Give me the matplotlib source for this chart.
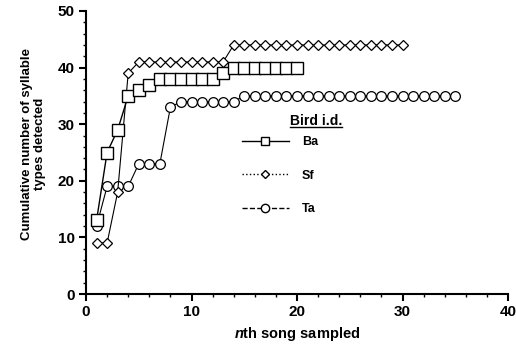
import matplotlib
matplotlib.use("Agg")
import matplotlib.pyplot as plt
from matplotlib.lines import Line2D
import matplotlib.ticker as ticker

plt.rcParams["font.family"] = ["Liberation Sans", "DejaVu Sans"]
plt.rcParams["font.weight"] = "bold"
plt.rcParams["mathtext.fontset"] = "custom"
plt.rcParams["mathtext.bfit"] = "Liberation Sans:bold:italic"
plt.rcParams["mathtext.rm"] = "Liberation Sans:bold"

# dados
ba_x = list(range(1, 21))
ba_y = [13, 25, 29, 35, 36, 37, 38, 38, 38, 38, 38, 38, 39, 40, 40, 40, 40, 40, 40, 40]

sf_x = list(range(1, 31))
sf_y = [9, 9, 18, 39, 41, 41, 41, 41, 41, 41, 41, 41, 41] + [44] * 17

ta_x = list(range(1, 36))
ta_y = [12, 19, 19, 19, 23, 23, 23, 33, 34, 34, 34, 34, 34, 34] + [35] * 21

labels = ["Ba", "Sf", "Ta"]
styles = ["-", ":", "--"]
markers = ["s", "D", "o"]

fig = plt.figure(figsize=(5.16, 3.49), dpi=100)
ax = fig.add_axes([86 / 516, 55 / 349, 422 / 516, 283 / 349])

ax.plot(ta_x, ta_y, "-", color="black", lw=0.8, marker="o", ms=7,
        mfc="white", mec="black", mew=0.9, zorder=3)
ax.plot(sf_x, sf_y, "-", color="black", lw=0.8, marker="D", ms=5.5,
        mfc="white", mec="black", mew=0.9, zorder=4)
ax.plot(ba_x, ba_y, "-", color="black", lw=1.0, marker="s", ms=8.5,
        mfc="white", mec="black", mew=1.0, zorder=5)

ax.set_xlim(0, 40)
ax.set_ylim(0, 50)
ax.xaxis.set_major_locator(ticker.MultipleLocator(10))
ax.xaxis.set_minor_locator(ticker.MultipleLocator(2))
ax.yaxis.set_major_locator(ticker.MultipleLocator(10))
ax.yaxis.set_minor_locator(ticker.MultipleLocator(2))
ax.spines["top"].set_visible(False)
ax.spines["right"].set_visible(False)
ax.spines["left"].set_linewidth(1.5)
ax.spines["bottom"].set_linewidth(1.5)
ax.tick_params(which="major", length=5, width=1.5, labelsize=11, pad=3)
ax.tick_params(which="minor", length=2.5, width=1.0)
for t in ax.get_xticklabels() + ax.get_yticklabels():
    t.set_fontweight("bold")

ax.set_xlabel("$\\mathbfit{n}$th song sampled", fontsize=10.5, fontweight="bold")
ax.xaxis.set_label_coords(0.5, -0.11)
ax.set_ylabel("Cumulative number of syllable\ntypes detected", fontsize=9.5,
              fontweight="bold", linespacing=1.1)
ax.yaxis.set_label_coords(-0.095, 0.53)

# legenda sem título; o título sublinhado vai à parte
handles = [Line2D([0], [0], color="black", ls=s, lw=1.0, marker=m, ms=ms,
                  mfc="white", mec="black")
           for s, m, ms in zip(styles, markers, [6, 4, 6])]
leg = ax.legend(handles, labels, loc="upper left",
                bbox_to_anchor=(0.369, 0.557), frameon=False, handlelength=3.8,
                labelspacing=1.72, handletextpad=1.0, fontsize=9,
                borderaxespad=0, borderpad=0)
for t in leg.get_texts():
    t.set_fontweight("bold")

title = ax.text(0.483, 0.61, "Bird i.d.", transform=ax.transAxes, fontsize=10,
                fontweight="bold", ha="left", va="center")
fig.canvas.draw()
bb = title.get_window_extent().transformed(fig.transFigure.inverted())
fig.add_artist(Line2D([bb.x0, bb.x1], [bb.y0 + 0.003, bb.y0 + 0.003],
                      color="black", lw=1.0, transform=fig.transFigure))

fig.savefig("out.png", dpi=100)
